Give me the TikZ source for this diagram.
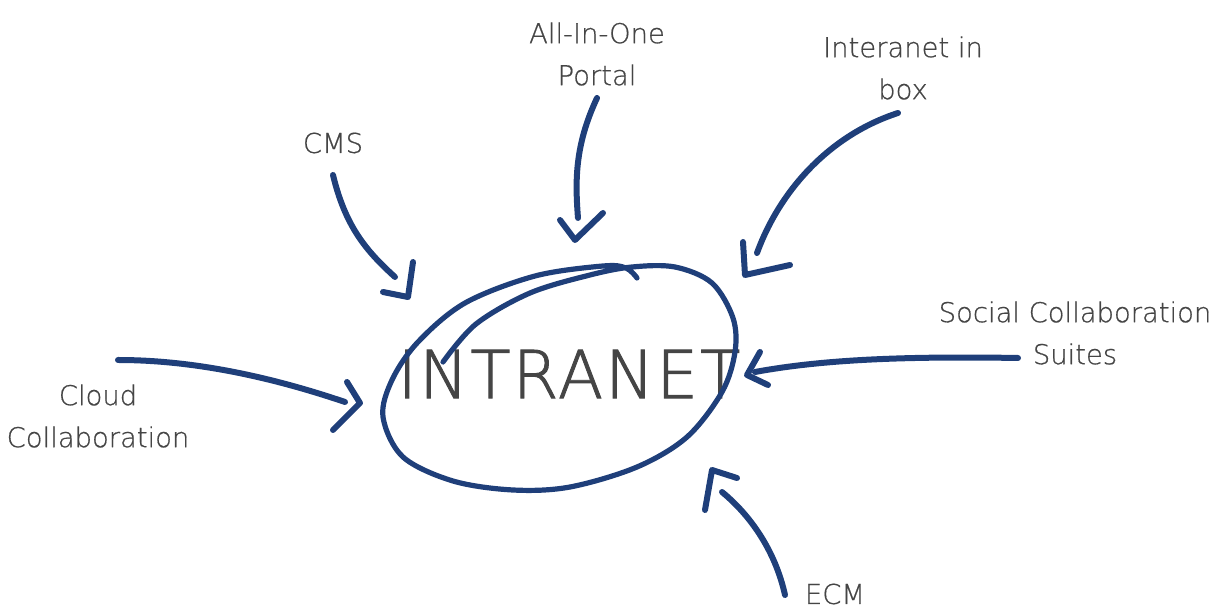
\documentclass[tikz,border=0pt]{standalone}
\usepackage{fontspec}
\newfontfamily\lightfont{DejaVuSans-ExtraLight.ttf}[FakeBold=0.6]
\newfontfamily\bigfont{DejaVuSans-ExtraLight.ttf}[FakeBold=1.4,LetterSpace=3]
\definecolor{arrowblue}{HTML}{1F3F7A}
\definecolor{textgray}{HTML}{454545}
\begin{document}
\begin{tikzpicture}[x=0.5pt,y=-0.5pt,
  lab/.style={font=\lightfont\fontsize{13.7}{21}\selectfont, text=textgray, align=center, inner sep=0pt},
  big/.style={font=\bigfont\fontsize{33}{33}\selectfont, text=textgray, inner sep=0pt},
  shaft/.style={draw=arrowblue, line width=3pt, line cap=round, line join=round},
  head/.style={shaft},
  ring/.style={draw=arrowblue, line width=2.6pt, line cap=round, line join=round}]
\useasboundingbox (0,0) rectangle (1216,608);

% labels
\node[lab] (portal) at (597,54) {All-In-One\\Portal};
\node[lab] (inbox) at (903,68) {Interanet in\\box};
\node[lab] (cms) at (333,143) {CMS};
\node[lab] (cloud) at (98,416) {Cloud\\Collaboration};
\node[lab] (social) at (1075,333) {Social Collaboration\\Suites};
\node[lab] (ecm) at (835,594) {ECM};

% centre
\node[big] (intranet) at (569,374) {INTRANET};
\draw[ring] plot[smooth, tension=0.55] coordinates {(443,362) (476,324) (530,293) (590,275) (632,267) (675,267) (712,283) (733,318) (735,352) (722,392) (687,437) (637,467) (570,487) (513,490) (453,481) (403,457) (383,417) (392,380) (418,342) (465,303) (535,276) (603,266) (626,268) (637,278)};

% arrow coordinates
\coordinate (cmsS) at (333,175); \coordinate (cmsE) at (395,277);
\coordinate (cmsA) at (413,262); \coordinate (cmsT) at (408,297); \coordinate (cmsB) at (383,292);
\coordinate (porS) at (597,98); \coordinate (porE) at (578,218);
\coordinate (porA) at (560,220); \coordinate (porT) at (575,240); \coordinate (porB) at (603,213);
\coordinate (boxS) at (898,113); \coordinate (boxE) at (757,253);
\coordinate (boxA) at (743,242); \coordinate (boxT) at (745,275); \coordinate (boxB) at (790,265);
\coordinate (socS) at (1018,358); \coordinate (socE) at (755,372);
\coordinate (socA) at (760,352); \coordinate (socT) at (747,375); \coordinate (socB) at (768,385);
\coordinate (cloS) at (118,360); \coordinate (cloE) at (345,402);
\coordinate (cloA) at (347,382); \coordinate (cloT) at (360,403); \coordinate (cloB) at (333,430);
\coordinate (ecmS) at (785,595); \coordinate (ecmE) at (722,492);
\coordinate (ecmA) at (705,510); \coordinate (ecmT) at (712,470); \coordinate (ecmB) at (737,478);

% arrows
\draw[shaft] (cmsS) .. controls (345,225) and (365,250) .. (cmsE);
\draw[head] (cmsA) -- (cmsT) -- (cmsB);
\draw[shaft] (porS) .. controls (575,145) and (575,180) .. (porE);
\draw[head] (porA) -- (porT) -- (porB);
\draw[shaft] (boxS) .. controls (830,135) and (780,190) .. (boxE);
\draw[head] (boxA) -- (boxT) -- (boxB);
\draw[shaft] (socS) .. controls (900,356) and (820,360) .. (socE);
\draw[head] (socA) -- (socT) -- (socB);
\draw[shaft] (cloS) .. controls (200,360) and (280,380) .. (cloE);
\draw[head] (cloA) -- (cloT) -- (cloB);
\draw[shaft] (ecmS) .. controls (775,550) and (750,515) .. (ecmE);
\draw[head] (ecmA) -- (ecmT) -- (ecmB);
\end{tikzpicture}
\end{document}
